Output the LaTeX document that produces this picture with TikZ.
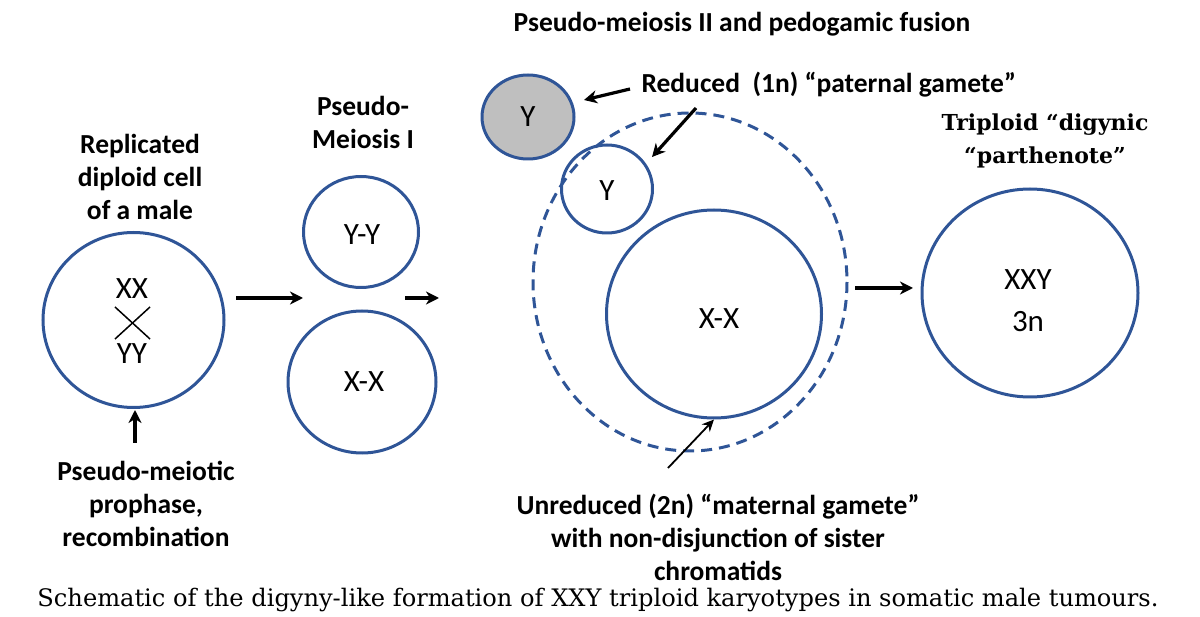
\documentclass[tikz,border=0pt]{standalone}
\usepackage{fontspec}
\setmainfont{Carlito}
\newfontfamily\serif{DejaVu Serif}
\usetikzlibrary{arrows.meta,shapes.geometric}
\definecolor{cb}{HTML}{2F5597}
\begin{document}
\begin{tikzpicture}[x=1pt,y=-1pt,
  cell/.style={draw=cb,line width=3pt,ellipse,inner sep=0pt},
  lab/.style={font=\fontsize{27.5}{33}\selectfont\bfseries,align=center},
  ctext/.style={font=\fontsize{31}{40}\selectfont,align=center},
  arr/.style={line width=3.2pt,-{Stealth[length=13pt,width=13pt,inset=4pt]}},
  tarr/.style={line width=1.8pt,-{Stealth[length=12pt,width=11pt,inset=4pt]}}]
\useasboundingbox (0,0) rectangle (1200,617);
% cell 1
\node[cell,minimum width=181pt,minimum height=175pt] (c1) at (133.5,320) {};
\node[ctext] (xx) at (132,289) {XX};
\node[ctext] (yy) at (132,354) {YY};
\coordinate (x1) at (115,307); \coordinate (x2) at (150,339);
\coordinate (x3) at (150,307); \coordinate (x4) at (115,339);
\draw[line width=1.5pt] (x1) -- (x2) (x3) -- (x4);
\node[lab] (l1) at (140,177) {Replicated\\diploid cell\\of a male};
\node[lab] (l2) at (146,504) {Pseudo-meiotic\\prophase,\\recombination};
\coordinate (a1s) at (135,443); \coordinate (a1e) at (135,410);
\draw[arr] (a1s) -- (a1e);
% meiosis I
\coordinate (a2s) at (236,298); \coordinate (a2e) at (303,298);
\draw[arr] (a2s) -- (a2e);
\node[cell,minimum width=115pt,minimum height=111pt] (yy1) at (361,232) {};
\node[ctext] at (362,235) {Y-Y};
\node[cell,minimum width=148pt,minimum height=142pt] (xx1) at (362,382) {};
\node[ctext] at (364,382) {X-X};
\node[lab] (l3) at (363,122) {Pseudo-\\Meiosis I};
\coordinate (a3s) at (405,298); \coordinate (a3e) at (439,298);
\draw[arr] (a3s) -- (a3e);
% meiosis II
\node[lab] (t) at (742,24) {Pseudo-meiosis II and pedogamic fusion};
\node[cell,minimum width=92pt,minimum height=84pt,fill=black!25] (g) at (528,117) {};
\node[ctext] at (528,117) {Y};
\node[lab,anchor=west] (l4) at (638,85) {Reduced\ \ (1n) “paternal gamete”};
\coordinate (a4s) at (630,89); \coordinate (a4e) at (584,100);
\draw[arr] (a4s) -- (a4e);
\draw[draw=cb,line width=3pt,dash pattern=on 11pt off 7pt] (690,282) ellipse [x radius=157, y radius=169];
\node[cell,minimum width=91pt,minimum height=88pt] (ys) at (607,189) {};
\node[ctext] at (607,191) {Y};
\coordinate (a5s) at (696,108); \coordinate (a5e) at (652,157);
\draw[arr] (a5s) -- (a5e);
\node[cell,minimum width=215pt,minimum height=208pt] (xb) at (714,314) {};
\node[ctext] at (719,319) {X-X};
\coordinate (a6s) at (668,468);
\draw[tarr] (a6s) -- (xb.south);
\node[lab] (l5) at (718,537) {Unreduced (2n) “maternal gamete”\\with non-disjunction of sister\\chromatids};
% triploid
\coordinate (a7s) at (855,288); \coordinate (a7e) at (913,288);
\draw[arr] (a7s) -- (a7e);
\node[cell,minimum width=216pt,minimum height=208pt] (tr) at (1030,293) {};
\node[ctext,font=\fontsize{31}{42}\selectfont] at (1028,301) {XXY\\3n};
\node[lab,font=\serif\fontsize{22}{33}\selectfont\bfseries] (l6) at (1045,141) {Triploid “digynic\\“parthenote”};
\node (cap) at (598,600) {\resizebox{1121pt}{!}{\serif\fontsize{20}{24}\selectfont Schematic of the digyny-like formation of XXY triploid karyotypes in somatic male tumours.}};
\end{tikzpicture}
\end{document}
